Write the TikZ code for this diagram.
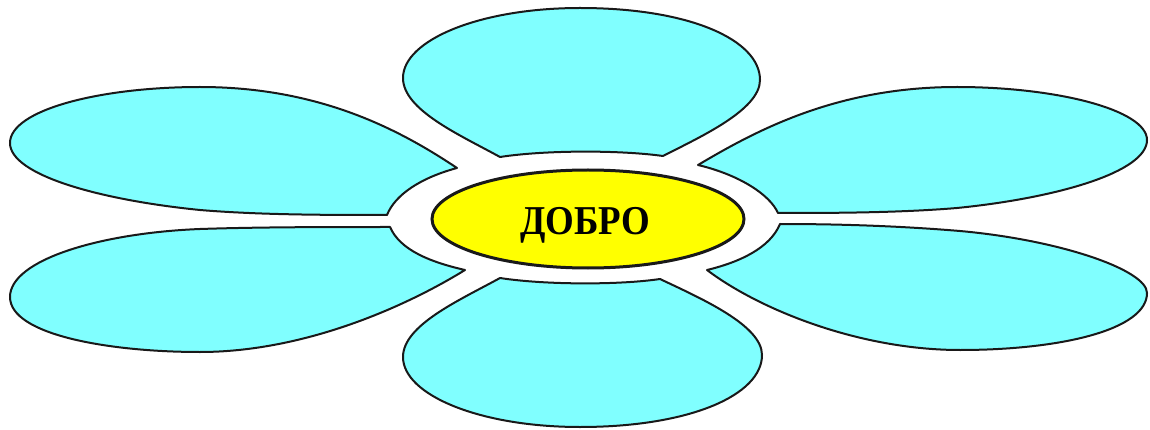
\documentclass[tikz,border=0pt]{standalone}
\usepackage{fontspec}
\newfontfamily\titlefont{Liberation Serif}
\definecolor{petalcyan}{RGB}{128,255,255}
\definecolor{centeryellow}{RGB}{255,255,0}
\definecolor{outline}{RGB}{25,25,25}
\begin{document}
\begin{tikzpicture}[x=1pt,y=-1pt,
  petal/.style={fill=petalcyan, draw=outline, line width=2pt, line join=round},
  heart/.style={fill=centeryellow, draw=outline, line width=3pt},
  word/.style={font=\titlefont\bfseries\fontsize{41}{41}\selectfont, text=black, xscale=0.9, inner sep=0pt}]
\fill[white] (0,0) rectangle (1150,430);
\useasboundingbox (0,0) rectangle (1150,430);
% top petal
\draw[petal] (500,157) .. controls (460,135) and (403,110) .. (403,78)
  .. controls (403,40) and (480,8) .. (580,8)
  .. controls (690,8) and (760,40) .. (760,80)
  .. controls (760,110) and (700,137) .. (663,156)
  .. controls (620,150) and (545,150) .. (500,157) -- cycle;
% bottom petal
\draw[petal] (500,278) .. controls (460,300) and (403,325) .. (403,357)
  .. controls (403,395) and (480,427) .. (580,427)
  .. controls (690,427) and (762,395) .. (762,355)
  .. controls (762,325) and (700,298) .. (660,279)
  .. controls (620,285) and (545,285) .. (500,278) -- cycle;
% left upper petal
\draw[petal] (387,215) .. controls (395,195) and (420,178) .. (457,168)
  .. controls (400,130) and (320,87) .. (200,87)
  .. controls (100,87) and (10,110) .. (10,143)
  .. controls (10,175) and (100,200) .. (200,210)
  .. controls (260,215) and (330,215) .. (387,215) -- cycle;
% left lower petal
\draw[petal] (390,227) .. controls (330,227) and (260,227) .. (200,229)
  .. controls (100,233) and (10,260) .. (10,297)
  .. controls (10,335) and (110,352) .. (200,352)
  .. controls (300,352) and (400,310) .. (465,270)
  .. controls (430,262) and (400,250) .. (390,227) -- cycle;
% right upper petal
\draw[petal] (778,213) .. controls (770,195) and (740,175) .. (698,165)
  .. controls (757,130) and (837,87) .. (957,87)
  .. controls (1057,87) and (1147,110) .. (1147,140)
  .. controls (1147,172) and (1057,198) .. (957,208)
  .. controls (897,213) and (827,213) .. (778,213) -- cycle;
% right lower petal
\draw[petal] (780,224) .. controls (840,224) and (900,226) .. (960,231)
  .. controls (1060,240) and (1147,270) .. (1147,293)
  .. controls (1147,330) and (1060,350) .. (960,350)
  .. controls (860,350) and (760,310) .. (707,270)
  .. controls (740,262) and (770,248) .. (780,224) -- cycle;
% centre
\draw[heart] (588,219) ellipse [x radius=156, y radius=49];
\node[word, anchor=base] (label) at (585,235) {ДОБРО};
\end{tikzpicture}
\end{document}
